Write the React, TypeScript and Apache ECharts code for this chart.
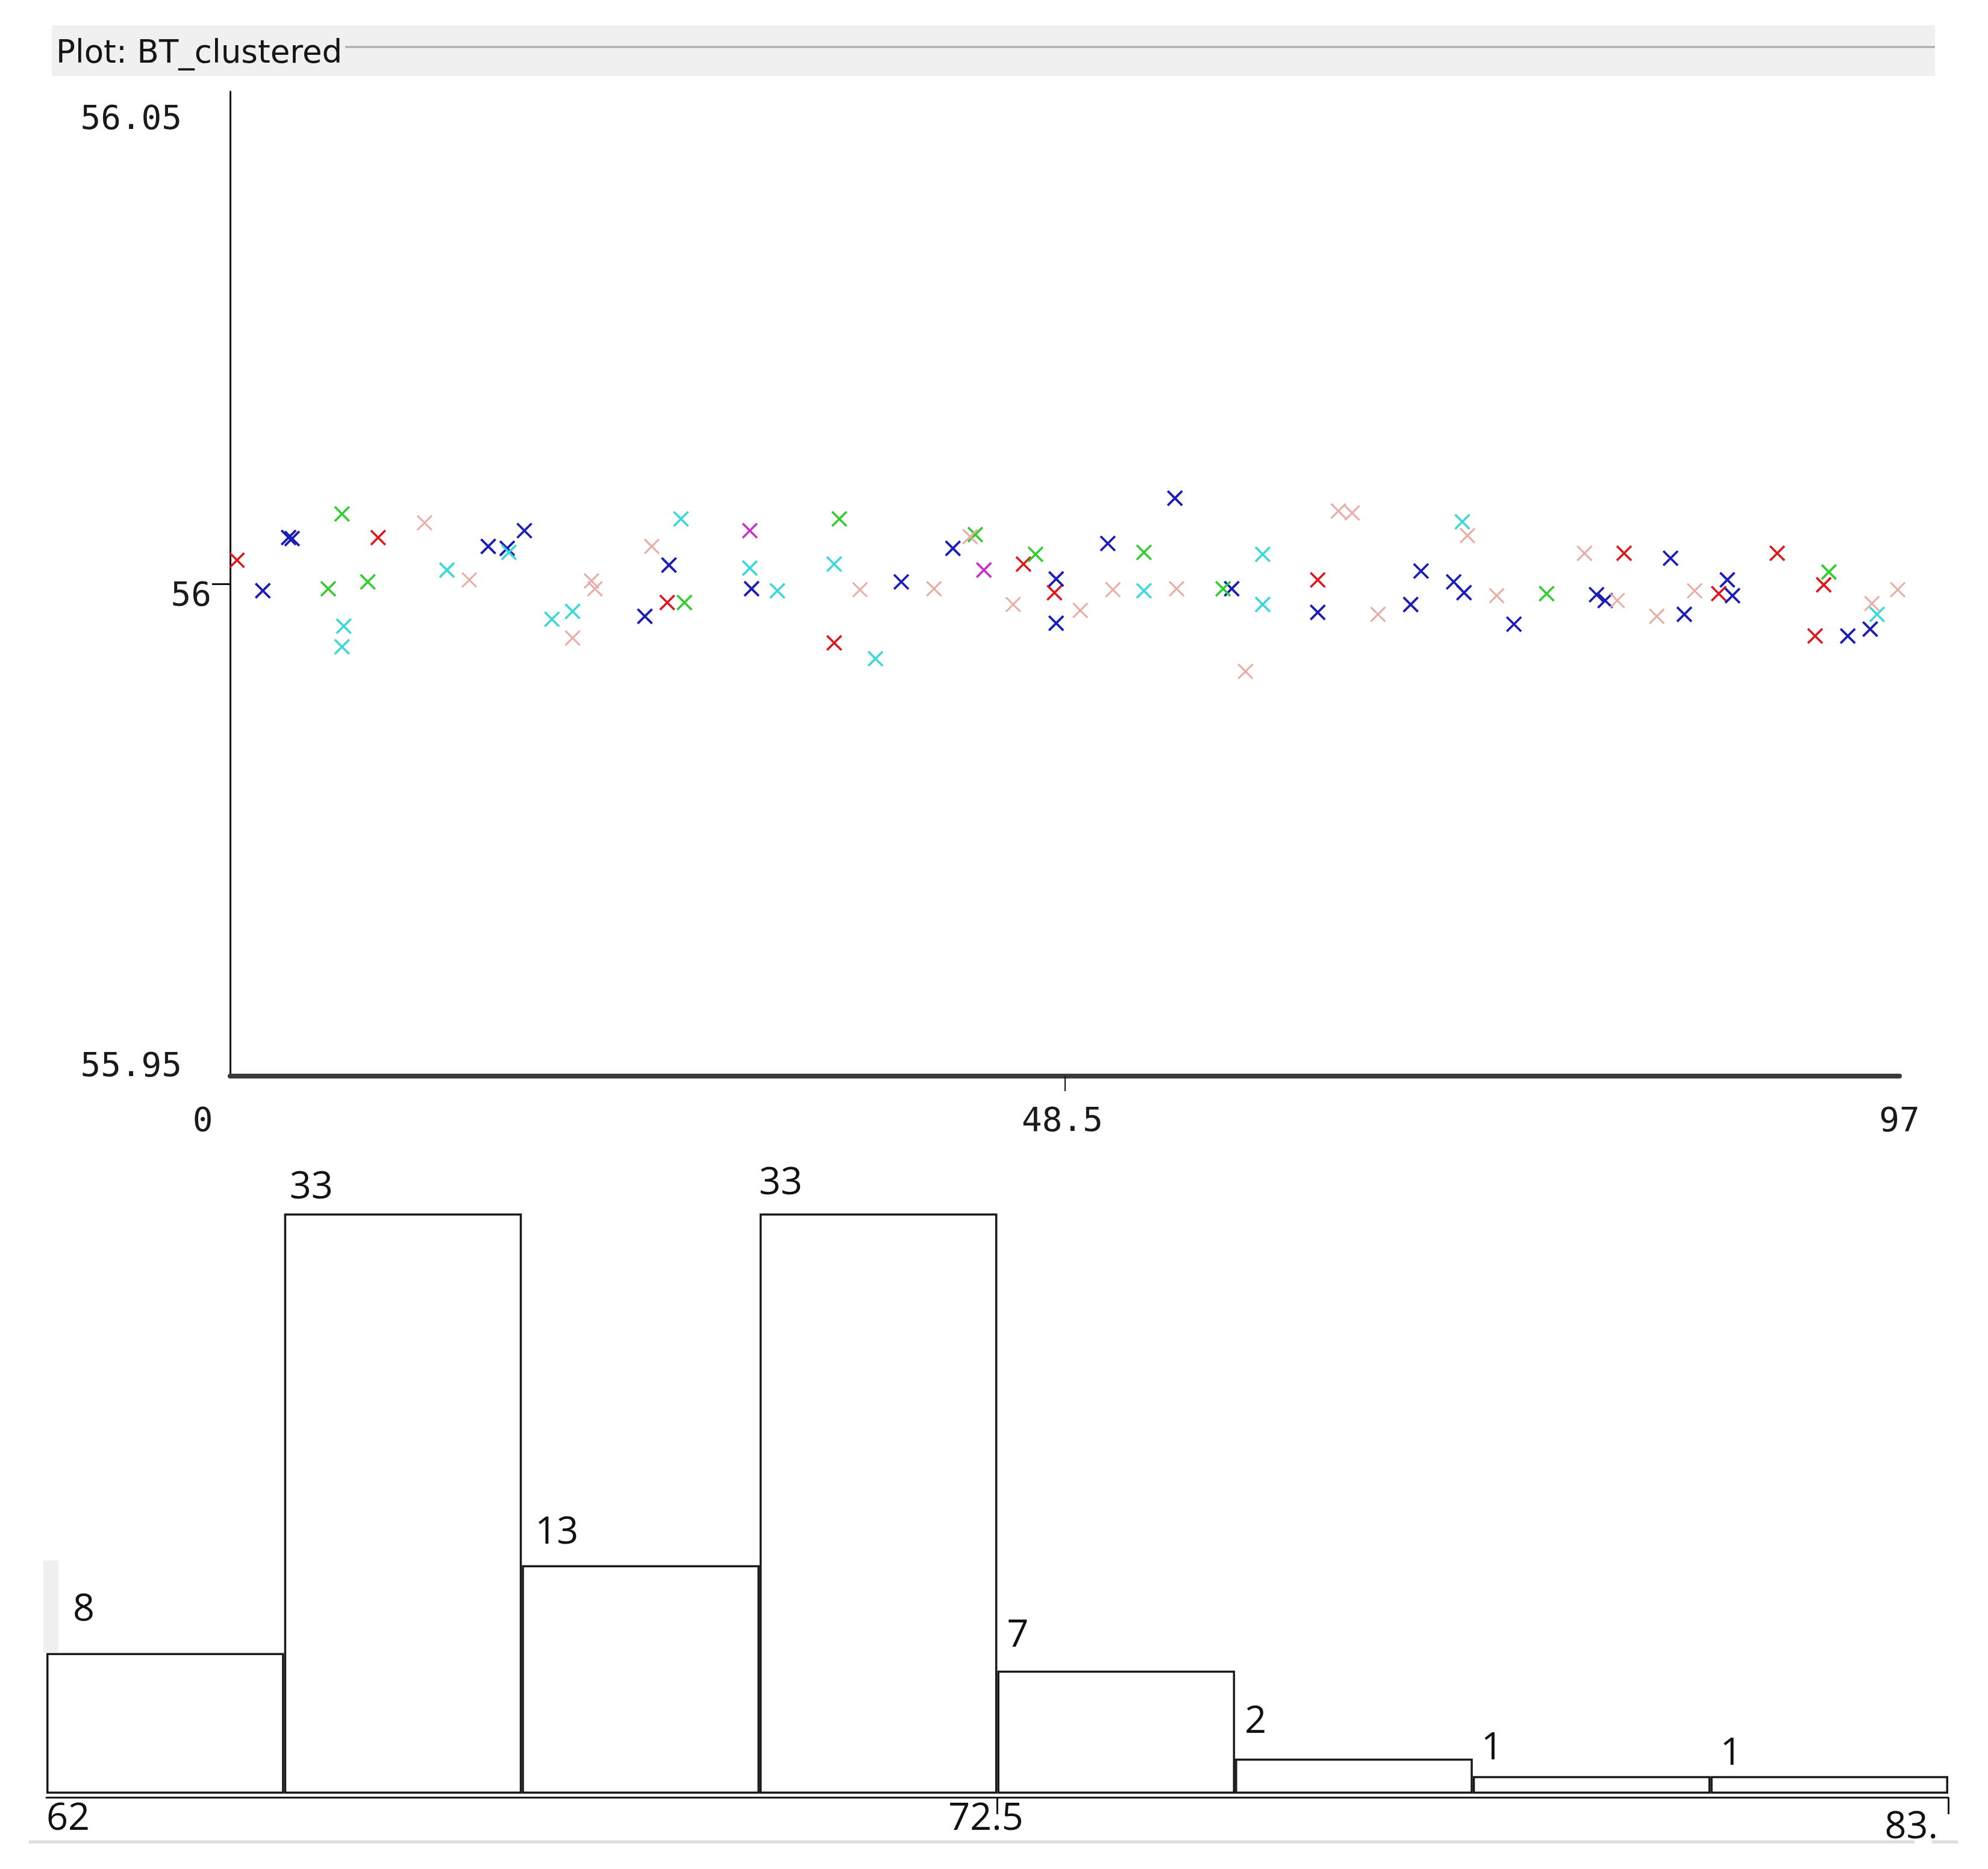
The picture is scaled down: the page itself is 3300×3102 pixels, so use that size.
import React, { useEffect, useRef } from 'react';
import * as echarts from 'echarts';

const W = 3300;
const H = 3102;

const titleText = 'Plot: BT_clustered';

// scatter axes
const scatterXTicks = [0, 48.5, 97];
const scatterXTickLabels = ['0', '48.5', '97'];
const scatterYTicks = [55.95, 56, 56.05];
const scatterYTickLabels = ['55.95', '56', '56.05'];

// clusters (index, value)
const redPoints: [number, number][] = [
  [0.4, 56.0024], [8.6, 56.0047], [25.4, 55.9981], [35.1, 55.994], [46.1, 56.002], [47.9, 55.9991],
  [63.2, 56.0004], [81.0, 56.0031], [89.9, 56.0031], [86.5, 55.999], [92.6, 55.9999], [92.1, 55.9947],
];
const bluePoints: [number, number][] = [
  [1.9, 55.9993], [3.4, 56.0047], [3.6, 56.0046], [15.0, 56.0038], [16.1, 56.0036], [17.1, 56.0054],
  [24.1, 55.9967], [25.5, 56.0019], [30.3, 55.9995], [39.0, 56.0002], [42.0, 56.0036], [48.0, 56.0005],
  [48.0, 55.996], [51.0, 56.0041], [54.9, 56.0087], [58.2, 55.9995], [63.2, 55.9971], [68.6, 55.9979],
  [69.2, 56.0013], [71.1, 56.0002], [71.7, 55.9991], [74.6, 55.9959], [79.4, 55.9989], [79.9, 55.9983],
  [83.7, 56.0026], [84.5, 55.9969], [87.0, 56.0004], [87.3, 55.9988], [94.0, 55.9947], [95.3, 55.9954],
];
const greenPoints: [number, number][] = [
  [6.5, 56.0071], [5.7, 55.9995], [8.0, 56.0002], [26.4, 55.9981], [35.4, 56.0066], [43.3, 56.005],
  [46.8, 56.003], [53.1, 56.0032], [57.7, 55.9995], [76.5, 55.999], [92.9, 56.0012],
];
const cyanPoints: [number, number][] = [
  [6.6, 55.9957], [6.5, 55.9936], [12.6, 56.0014], [16.2, 56.0032], [18.7, 55.9964], [19.9, 55.9972],
  [26.2, 56.0066], [30.2, 56.0016], [31.8, 55.9993], [35.1, 56.002], [37.5, 55.9924], [53.1, 55.9993],
  [60.0, 56.003], [60.0, 55.9979], [71.6, 56.0063], [95.7, 55.9969],
];
const pinkPoints: [number, number][] = [
  [11.3, 56.0062], [13.9, 56.0004], [19.9, 55.9945], [21.0, 56.0003], [21.2, 55.9995], [24.5, 56.0038],
  [36.6, 55.9994], [40.9, 55.9995], [43.0, 56.0048], [45.5, 55.9979], [49.4, 55.9973], [51.3, 55.9994],
  [55.0, 55.9995], [59.0, 55.9911], [64.4, 56.0074], [65.2, 56.0072], [66.7, 55.9969], [71.9, 56.0049],
  [73.6, 55.9988], [78.7, 56.0031], [80.6, 55.9983], [82.9, 55.9967], [85.1, 55.9993], [95.4, 55.998],
  [96.9, 55.9994],
];
const magentaPoints: [number, number][] = [[30.2, 56.0054], [43.8, 56.0014]];

// histogram
const histBins = ['62.000', '64.625', '67.250', '69.875', '72.500', '75.125', '77.750', '80.375'];
const histCounts = [8, 33, 13, 33, 7, 2, 1, 1];
const histXTicks = [62, 72.5, 83];
const histXTickLabels = ['62', '72.5', '83.'];

// layout / style (not data)
const histLabelOffsets: [number, number][] = [
  [44, -78], [9, -50], [22, -60], [-1, -57], [16, -64], [16, -67], [14, -52], [16, -43],
];
const clusterStyles = [
  { name: 'red', color: '#e0161c', width: 3.6, points: redPoints },
  { name: 'blue', color: '#1c1cb8', width: 3.8, points: bluePoints },
  { name: 'green', color: '#30cc30', width: 3.6, points: greenPoints },
  { name: 'cyan', color: '#3ad8d8', width: 3.6, points: cyanPoints },
  { name: 'pink', color: '#e8aca4', width: 3, points: pinkPoints },
  { name: 'magenta', color: '#c932c9', width: 3.6, points: magentaPoints },
];

const monoFont = 'DejaVu Sans Mono';
const monoSize = 56;
const sansFont = 'Open Sans';
const sansSize = 63;

const tickIndex = (ticks: number[], v: number) => ticks.findIndex((t) => Math.abs(t - v) < 1e-6);

export default function App() {
  const ref = useRef<HTMLDivElement>(null);

  useEffect(() => {
    if (!ref.current) return;
    const chart = echarts.init(ref.current, undefined, { renderer: 'svg', width: W, height: H });

    const monoRich = (pad: number[]) => ({
      fontFamily: monoFont, fontSize: monoSize, color: '#1a1a1a', padding: pad,
    });
    const sansRich = (pad: number[]) => ({
      fontFamily: sansFont, fontSize: sansSize, color: '#111', padding: pad,
    });

    const option: any = {
      animation: false,
      backgroundColor: '#ffffff',
      title: {
        text: titleText,
        left: 93,
        top: 59,
        padding: 0,
        textStyle: { fontFamily: 'DejaVu Sans', fontSize: 53, fontWeight: 'normal', color: '#151515' },
      },
      graphic: [
        { type: 'rect', z: -10, shape: { x: 86, y: 42, width: 3126, height: 84 }, style: { fill: '#f0f0f0' } },
        { type: 'line', shape: { x1: 573, y1: 78, x2: 3212, y2: 78 }, style: { stroke: '#a8a8a8', lineWidth: 3 } },
        { type: 'line', shape: { x1: 48, y1: 3057, x2: 3178, y2: 3057 }, style: { stroke: '#dcdcdc', lineWidth: 5 } },
        { type: 'line', shape: { x1: 3207, y1: 3057, x2: 3250, y2: 3057 }, style: { stroke: '#dcdcdc', lineWidth: 5 } },
        { type: 'rect', z: -10, shape: { x: 72, y: 2590, width: 25, height: 152 }, style: { fill: '#efefef' } },
      ],
      grid: [
        { left: 382, top: 152, width: 2771, height: 1634, outerBoundsMode: 'none', containLabel: false },
        { left: 77, top: 2014, width: 3157, height: 963, outerBoundsMode: 'none', containLabel: false },
      ],
      xAxis: [
        {
          gridIndex: 0,
          type: 'value',
          position: 'bottom',
          min: 0,
          max: 97,
          splitLine: { show: false },
          axisLine: { show: true, lineStyle: { color: '#3a3a3a', width: 8 } },
          axisTick: { show: true, customValues: [48.5], length: 25, lineStyle: { color: '#111', width: 2 } },
          axisLabel: {
            show: true,
            customValues: scatterXTicks,
            margin: 43,
            formatter: (v: number) => {
              const i = tickIndex(scatterXTicks, v);
              return i < 0 ? '' : `{x${i}|${scatterXTickLabels[i]}}`;
            },
            rich: {
              x0: monoRich([0, 91, 0, 0]),
              x1: monoRich([0, 8, 0, 0]),
              x2: monoRich([0, 0, 0, 0]),
            },
          },
        },
        {
          gridIndex: 1,
          type: 'category',
          position: 'bottom',
          data: histBins,
          show: false,
        },
        {
          gridIndex: 1,
          type: 'value',
          position: 'bottom',
          min: 62,
          max: 83,
          offset: 6,
          splitLine: { show: false },
          axisLine: { show: true, lineStyle: { color: '#1a1a1a', width: 3 } },
          axisTick: { show: true, customValues: [72.5, 83], length: 28, lineStyle: { color: '#1a1a1a', width: 3 } },
          axisLabel: {
            show: true,
            customValues: histXTicks,
            margin: -2,
            alignMinLabel: 'left',
            alignMaxLabel: 'right',
            formatter: (v: number) => {
              const i = tickIndex(histXTicks, v);
              return i < 0 ? '' : `{h${i}|${histXTickLabels[i]}}`;
            },
            rich: {
              h0: sansRich([0, 0, 0, 0]),
              h1: sansRich([0, 38, 0, 0]),
              h2: sansRich([14, 17, 0, 0]),
            },
          },
        },
      ],
      yAxis: [
        {
          gridIndex: 0,
          type: 'value',
          min: 55.95,
          max: 56.05,
          splitLine: { show: false },
          axisLine: { show: true, lineStyle: { color: '#111', width: 3 } },
          axisTick: { show: true, customValues: [56], length: 30, lineStyle: { color: '#111', width: 3 } },
          axisLabel: {
            show: true,
            customValues: scatterYTicks,
            margin: 31,
            formatter: (v: number) => {
              const i = tickIndex(scatterYTicks, v);
              return i < 0 ? '' : `{y${i}|${scatterYTickLabels[i]}}`;
            },
            rich: {
              y0: monoRich([0, 49, 40, 0]),
              y1: monoRich([32, 0, 0, 0]),
              y2: monoRich([84, 49, 0, 0]),
            },
          },
        },
        {
          gridIndex: 1,
          type: 'value',
          min: 0,
          max: 33,
          show: false,
        },
      ],
      series: [
        ...clusterStyles.map((c) => ({
          type: 'scatter',
          name: c.name,
          xAxisIndex: 0,
          yAxisIndex: 0,
          data: c.points,
          symbol: 'path://M0,0L10,10M10,0L0,10',
          symbolSize: 24,
          silent: true,
          itemStyle: { color: 'rgba(0,0,0,0)', borderColor: c.color, borderWidth: c.width, opacity: 1 },
        })),
        {
          type: 'bar',
          name: 'histogram',
          xAxisIndex: 1,
          yAxisIndex: 1,
          barWidth: '100%',
          barCategoryGap: '0%',
          silent: true,
          data: histCounts.map((v, i) => ({ value: v, label: { position: histLabelOffsets[i] } })),
          itemStyle: { color: '#ffffff', borderColor: '#1a1a1a', borderWidth: 3.5 },
          label: {
            show: true,
            formatter: '{c}',
            align: 'left',
            verticalAlign: 'middle',
            fontFamily: sansFont,
            fontSize: sansSize,
            color: '#111',
          },
        },
      ],
    };

    chart.setOption(option);
    return () => chart.dispose();
  }, []);

  return (
    <div
      ref={ref}
      style={{ position: 'absolute', left: 0, top: 0, width: W, height: H, background: '#fff' }}
    />
  );
}
